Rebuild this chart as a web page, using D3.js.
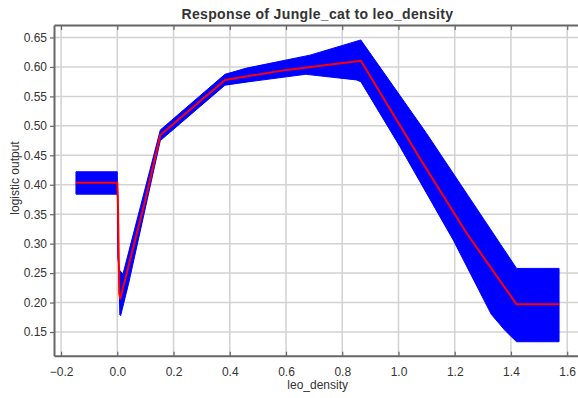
<!DOCTYPE html>
<html>
<head>
<meta charset="utf-8">
<script src="https://cdn.jsdelivr.net/npm/d3@7"></script>
<style>
  html, body { margin: 0; padding: 0; background: #ffffff; }
  svg { display: block; }
  text { font-family: "Liberation Sans", Arial, sans-serif; fill: #333; }
</style>
</head>
<body>
<div id="chart"></div>
<script>
// ---- Data ----
const chartTitle = "Response of Jungle_cat to leo_density";
const xLabel = "leo_density";
const yLabel = "logistic output";
const xTicks = [-0.2, 0.0, 0.2, 0.4, 0.6, 0.8, 1.0, 1.2, 1.4, 1.6];
const yTicks = [0.15, 0.20, 0.25, 0.30, 0.35, 0.40, 0.45, 0.50, 0.55, 0.60, 0.65];

// upper edge of the blue band (x, value)
const upperEdge = [
  [-0.147, 0.422], [0, 0.422], [0.002, 0.275], [0.008, 0.255], [0.02, 0.248],
  [0.153, 0.493], [0.383, 0.5875], [0.46, 0.598], [0.685, 0.620], [0.866, 0.6458],
  [1.10, 0.487], [1.42, 0.258], [1.571, 0.258]
];
// lower edge of the blue band (x, value)
const lowerEdge = [
  [-0.147, 0.384], [0, 0.384], [0.009, 0.179], [0.012, 0.178], [0.0405, 0.233],
  [0.153, 0.475], [0.383, 0.569], [0.47, 0.575], [0.67, 0.5875], [0.85, 0.578],
  [0.866, 0.575], [1.005, 0.465], [1.195, 0.306], [1.33, 0.18], [1.38, 0.152],
  [1.42, 0.1335], [1.571, 0.1335]
];
// mean response (red line)
const meanLine = [
  [-0.147, 0.4035], [0, 0.4035], [0.002, 0.38], [0.007, 0.215], [0.0107, 0.207],
  [0.0996, 0.374], [0.153, 0.4845], [0.383, 0.578], [0.602, 0.595], [0.866, 0.6106],
  [1.076, 0.445], [1.2425, 0.3176], [1.42, 0.197], [1.571, 0.197]
];

// ---- Layout ----
const W = 578, H = 398;
const mLeft = 54, mRight = 580, mTop = 25, mBottom = 355.7;

const x = d3.scaleLinear().domain([-0.2251, 1.6455]).range([mLeft, mRight]);
const y = d3.scaleLinear().domain([0.1098, 0.6712]).range([mBottom, mTop]);

const svg = d3.select("#chart").append("svg")
  .attr("width", W).attr("height", H);

svg.append("defs").append("clipPath").attr("id", "clip")
  .append("rect").attr("x", mLeft).attr("y", mTop)
  .attr("width", mRight - mLeft).attr("height", mBottom - mTop);

// grid
const grid = svg.append("g");
grid.selectAll("line.vx").data(xTicks).enter().append("line")
  .attr("x1", d => x(d)).attr("x2", d => x(d))
  .attr("y1", mTop).attr("y2", mBottom)
  .attr("stroke", "#d2d2d2").attr("stroke-width", 1.5);
grid.selectAll("line.hy").data(yTicks).enter().append("line")
  .attr("y1", d => y(d)).attr("y2", d => y(d))
  .attr("x1", mLeft).attr("x2", mRight)
  .attr("stroke", "#d2d2d2").attr("stroke-width", 1.5);

// band
const plot = svg.append("g").attr("clip-path", "url(#clip)");
const bandPts = upperEdge.concat(lowerEdge.slice().reverse());
const poly = d3.line().x(d => x(d[0])).y(d => y(d[1]));
plot.append("path")
  .attr("d", poly(bandPts) + "Z")
  .attr("fill", "#0000ff")
  .attr("stroke", "#0000ff").attr("stroke-width", 1)
  .attr("stroke-linejoin", "round");

plot.append("path")
  .attr("d", poly(meanLine))
  .attr("fill", "none")
  .attr("stroke", "#ff0000").attr("stroke-width", 2)
  .attr("stroke-linejoin", "round");

// axes
const axisColor = "#666";
const xAxis = svg.append("g").attr("transform", `translate(0,${mBottom})`)
  .call(d3.axisBottom(x).tickValues(xTicks).tickSizeInner(-4).tickSizeOuter(0)
    .tickPadding(12).tickFormat(d3.format(".1f")));
const yAxis = svg.append("g").attr("transform", `translate(${mLeft},0)`)
  .call(d3.axisLeft(y).tickValues(yTicks).tickSizeInner(4).tickSizeOuter(0)
    .tickPadding(3).tickFormat(d3.format(".2f")));
const topAxis = svg.append("g").attr("transform", `translate(0,${mTop})`)
  .call(d3.axisTop(x).tickValues(xTicks).tickSizeInner(-5).tickSizeOuter(0)
    .tickFormat(""));

[xAxis, yAxis, topAxis].forEach(g => {
  g.select(".domain").attr("stroke", axisColor).attr("stroke-width", 2);
  g.selectAll(".tick line").attr("stroke", axisColor).attr("stroke-width", 1.2);
  g.selectAll(".tick text").attr("font-size", 12).attr("fill", "#333")
    .attr("font-family", "Liberation Sans, Arial, sans-serif");
});

// title
svg.append("text")
  .attr("x", 317.5).attr("y", 19)
  .attr("text-anchor", "middle")
  .attr("font-size", 14).attr("font-weight", "bold")
  .attr("letter-spacing", 0.35)
  .attr("fill", "#111")
  .text(chartTitle);

// axis labels
svg.append("text")
  .attr("x", 317.7).attr("y", 389)
  .attr("text-anchor", "middle")
  .attr("font-size", 12)
  .text(xLabel);

svg.append("text")
  .attr("transform", "translate(19,178) rotate(-90)")
  .attr("text-anchor", "middle")
  .attr("font-size", 12)
  .text(yLabel);
</script>
</body>
</html>
